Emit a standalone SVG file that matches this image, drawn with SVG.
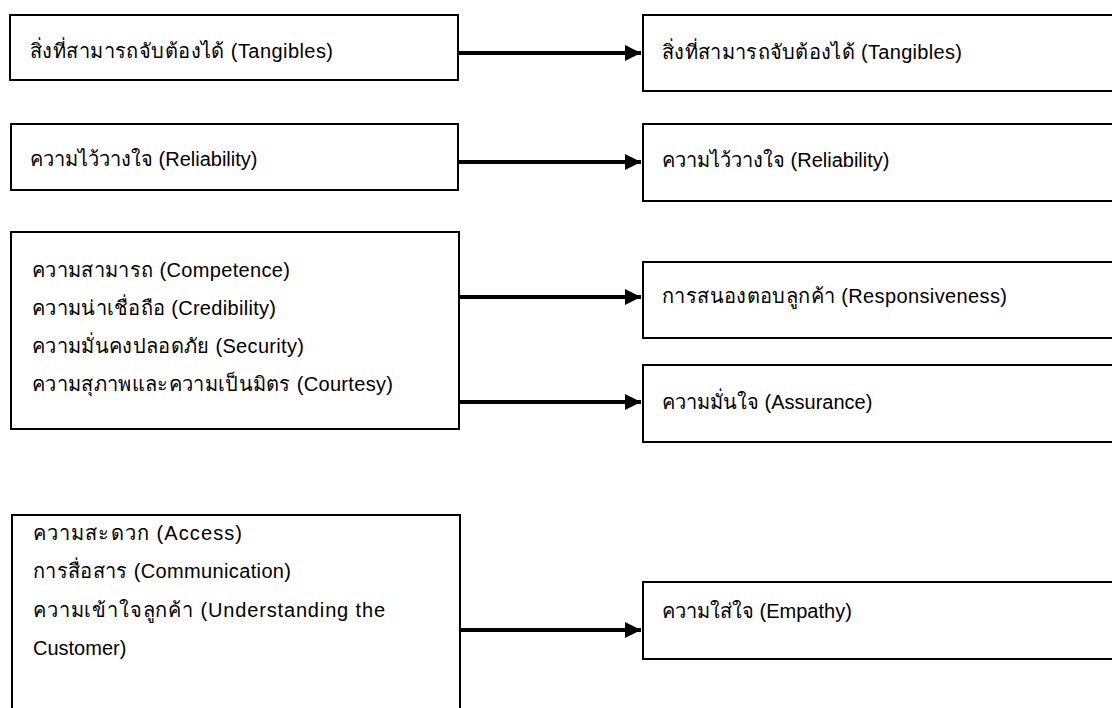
<svg xmlns="http://www.w3.org/2000/svg" width="1112" height="708" viewBox="0 0 1112 708">
<style>
.box{fill:#fff;stroke:#000;stroke-width:2}
.t{font-family:"Liberation Sans","Noto Sans",sans-serif;font-size:20px;fill:#000}
.c{stroke:#000;stroke-width:4;fill:none}
</style>
<defs>
<marker id="ah" markerUnits="userSpaceOnUse" markerWidth="16" markerHeight="16" viewBox="0 0 16 16" refX="16" refY="8" orient="auto">
<path d="M0,0 L16,8 L0,16 Z" fill="#000"/>
</marker>
</defs>
<rect width="1112" height="708" fill="#fff"/>
<g id="L1"><rect class="box" x="10" y="15" width="448" height="65"/><text class="t" x="30" y="58" textLength="303">สิ่งที่สามารถจับต้องได้ (Tangibles)</text></g>
<g id="L2"><rect class="box" x="11" y="124" width="447" height="66"/><text class="t" x="30" y="166">ความไว้วางใจ (Reliability)</text></g>
<g id="L3"><rect class="box" x="11" y="232" width="448" height="197"/>
<text class="t" x="32" y="277" textLength="258">ความสามารถ (Competence)</text>
<text class="t" x="32" y="315" textLength="244">ความน่าเชื่อถือ (Credibility)</text>
<text class="t" x="32" y="353" textLength="272">ความมั่นคงปลอดภัย (Security)</text>
<text class="t" x="32" y="391" textLength="361">ความสุภาพและความเป็นมิตร (Courtesy)</text></g>
<g id="L5"><rect class="box" x="12" y="515" width="448" height="210"/>
<text class="t" x="33" y="540" textLength="209">ความสะดวก (Access)</text>
<text class="t" x="33" y="578" textLength="258">การสื่อสาร (Communication)</text>
<text class="t" x="33" y="617" textLength="352">ความเข้าใจลูกค้า (Understanding the</text>
<text class="t" x="33" y="655">Customer)</text></g>
<g id="R1"><rect class="box" x="643" y="15" width="480" height="76"/><text class="t" x="662" y="59" textLength="300">สิ่งที่สามารถจับต้องได้ (Tangibles)</text></g>
<g id="R2"><rect class="box" x="643" y="124" width="480" height="77"/><text class="t" x="662" y="167">ความไว้วางใจ (Reliability)</text></g>
<g id="R3"><rect class="box" x="643" y="262" width="480" height="76"/><text class="t" x="662" y="303" textLength="345">การสนองตอบลูกค้า (Responsiveness)</text></g>
<g id="R4"><rect class="box" x="643" y="365" width="480" height="77"/><text class="t" x="662" y="409">ความมั่นใจ (Assurance)</text></g>
<g id="R5"><rect class="box" x="643" y="582" width="480" height="77"/><text class="t" x="662" y="618">ความใส่ใจ (Empathy)</text></g>
<g id="connectors">
<line class="c" x1="459" y1="53" x2="641" y2="53" marker-end="url(#ah)"/>
<line class="c" x1="459" y1="162" x2="641" y2="162" marker-end="url(#ah)"/>
<line class="c" x1="460" y1="297" x2="641" y2="297" marker-end="url(#ah)"/>
<line class="c" x1="460" y1="402" x2="641" y2="402" marker-end="url(#ah)"/>
<line class="c" x1="461" y1="630" x2="641" y2="630" marker-end="url(#ah)"/>
</g>
</svg>
